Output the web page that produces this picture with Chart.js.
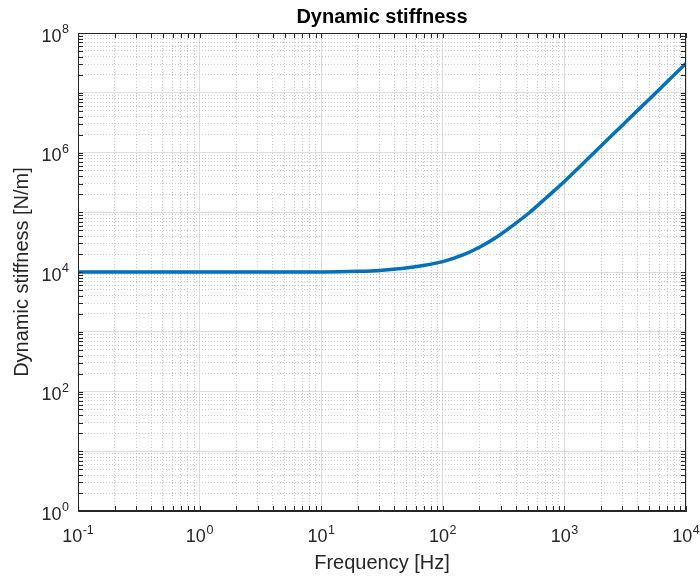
<!DOCTYPE html>
<html>
<head>
<meta charset="utf-8">
<script src="https://cdn.jsdelivr.net/npm/chart.js@4.4.1/dist/chart.umd.min.js"></script>
<style>
  html, body { margin: 0; padding: 0; background: #ffffff; }
  #wrap { width: 700px; height: 577px; position: relative; }
</style>
</head>
<body>
<div id="wrap"><canvas id="c"></canvas></div>
<script>
// ---- data ----
const frequencyHz = [0.1, 1, 10, 20, 30, 55, 100, 150, 200, 280, 380, 520, 710, 1000, 1350, 1850, 2500, 3500, 4750, 6500, 10000];
const stiffnessNm = [1.0e4, 1.0e4, 1.004e4, 1.025e4, 1.06e4, 1.2e4, 1.49e4, 1.97e4, 2.6e4, 3.9e4, 6.1e4, 1.0e5, 1.75e5, 3.26e5, 5.9e5, 1.1e6, 2.0e6, 3.9e6, 7.1e6, 1.32e7, 3.1e7];

const xTickExponents = [-1, 0, 1, 2, 3, 4];
const yTickExponents = [0, 2, 4, 6, 8];

const titleText = 'Dynamic stiffness';
const xLabelText = 'Frequency [Hz]';
const yLabelText = 'Dynamic stiffness [N/m]';

const FONT = '"Liberation Sans", Arial, Helvetica, sans-serif';
const AXIS_COLOR = '#262626';

function logTicks(expMin, expMax) {
  const out = [];
  for (let e = expMin; e <= expMax; e++) {
    for (let m = 1; m <= 9; m++) {
      if (e === expMax && m > 1) break;
      const v = Number((m * Math.pow(10, e)).toPrecision(6));
      out.push({ value: v, major: m === 1 });
    }
  }
  return out;
}

const gridColor = (ctx) => (ctx.tick && ctx.tick.major) ? '#dedede' : '#cdcdcd';
const gridDash = (ctx) => (ctx.tick && !ctx.tick.major) ? [1, 2] : [];

const decorPlugin = {
  id: 'decor',
  afterDraw(chart) {
    const { ctx, chartArea: a, scales } = chart;
    const xs = scales.x, ys = scales.y;
    ctx.save();
    ctx.strokeStyle = AXIS_COLOR;
    ctx.lineWidth = 1;
    ctx.beginPath();
    ctx.moveTo(Math.round(a.left) + 0.5, Math.round(a.top) + 0.5);
    ctx.lineTo(Math.round(a.right) - 0.5, Math.round(a.top) + 0.5);
    ctx.lineTo(Math.round(a.right) - 0.5, Math.round(a.bottom) - 0.5);
    ctx.moveTo(Math.round(a.left) + 0.5, Math.round(a.top) + 0.5);
    ctx.lineTo(Math.round(a.left) + 0.5, Math.round(a.bottom) - 0.5);
    ctx.lineTo(Math.round(a.right) - 0.5, Math.round(a.bottom) - 0.5);
    ctx.stroke();
    const TL = 5;
    ctx.beginPath();
    xs.ticks.forEach(t => {
      const px = Math.round(xs.getPixelForValue(t.value)) + 0.5;
      ctx.moveTo(px, a.bottom); ctx.lineTo(px, a.bottom - TL);
      ctx.moveTo(px, a.top); ctx.lineTo(px, a.top + TL);
    });
    ys.ticks.forEach(t => {
      const py = Math.round(ys.getPixelForValue(t.value)) + 0.5;
      ctx.moveTo(a.left, py); ctx.lineTo(a.left + TL, py);
      ctx.moveTo(a.right, py); ctx.lineTo(a.right - TL, py);
    });
    ctx.stroke();

    ctx.fillStyle = AXIS_COLOR;
    ctx.textBaseline = 'alphabetic';
    const baseFont = '18px ' + FONT, expFont = '12.5px ' + FONT;
    function measure(e) {
      ctx.font = baseFont; const wb = ctx.measureText('10').width;
      ctx.font = expFont; const we = ctx.measureText(String(e)).width;
      return [wb, we];
    }
    function drawPow(e, left, baseY, expY) {
      const [wb] = measure(e);
      ctx.textAlign = 'left';
      ctx.font = baseFont; ctx.fillText('10', left, baseY);
      ctx.font = expFont; ctx.fillText(String(e), left + wb + 0.5, expY);
    }
    xTickExponents.forEach(e => {
      const px = xs.getPixelForValue(Math.pow(10, e));
      const [wb, we] = measure(e);
      const total = wb + we + 0.5;
      drawPow(e, px - total / 2, a.bottom + 31, a.bottom + 23);
    });
    yTickExponents.forEach(e => {
      const py = ys.getPixelForValue(Math.pow(10, e));
      const [wb, we] = measure(e);
      const total = wb + we + 0.5;
      drawPow(e, a.left - 9 - total, py + 8.5, py);
    });

    ctx.font = '20px ' + FONT;
    ctx.textAlign = 'center';
    ctx.fillText(xLabelText, (a.left + a.right) / 2, 569);
    ctx.save();
    ctx.translate(28, (a.top + a.bottom) / 2);
    ctx.rotate(-Math.PI / 2);
    ctx.fillText(yLabelText, 0, 0);
    ctx.restore();

    ctx.font = 'bold 20px ' + FONT;
    ctx.fillStyle = '#000000';
    ctx.fillText(titleText, (a.left + a.right) / 2, 23);
    ctx.restore();
  }
};

new Chart(document.getElementById('c'), {
  type: 'line',
  data: {
    datasets: [{
      data: frequencyHz.map((f, i) => ({ x: f, y: stiffnessNm[i] })),
      borderColor: '#0072BD',
      borderWidth: 3.5,
      pointRadius: 0,
      fill: false,
      cubicInterpolationMode: 'monotone'
    }]
  },
  options: {
    responsive: true,
    maintainAspectRatio: false,
    animation: false,
    layout: { padding: { left: 78, right: 14, top: 33, bottom: 66 } },
    plugins: { legend: { display: false }, title: { display: false }, tooltip: { enabled: false } },
    scales: {
      x: {
        type: 'logarithmic',
        min: 0.1, max: 10000,
        afterBuildTicks: (s) => { s.ticks = logTicks(-1, 4); },
        ticks: { display: false },
        grid: { drawTicks: false, color: gridColor, lineWidth: 1 },
        border: { display: true, color: AXIS_COLOR, width: 1, dash: gridDash }
      },
      y: {
        type: 'logarithmic',
        min: 1, max: 1e8,
        afterBuildTicks: (s) => { s.ticks = logTicks(0, 8); },
        ticks: { display: false },
        grid: { drawTicks: false, color: gridColor, lineWidth: 1 },
        border: { display: true, color: AXIS_COLOR, width: 1, dash: gridDash }
      }
    }
  },
  plugins: [decorPlugin]
});
</script>
</body>
</html>
